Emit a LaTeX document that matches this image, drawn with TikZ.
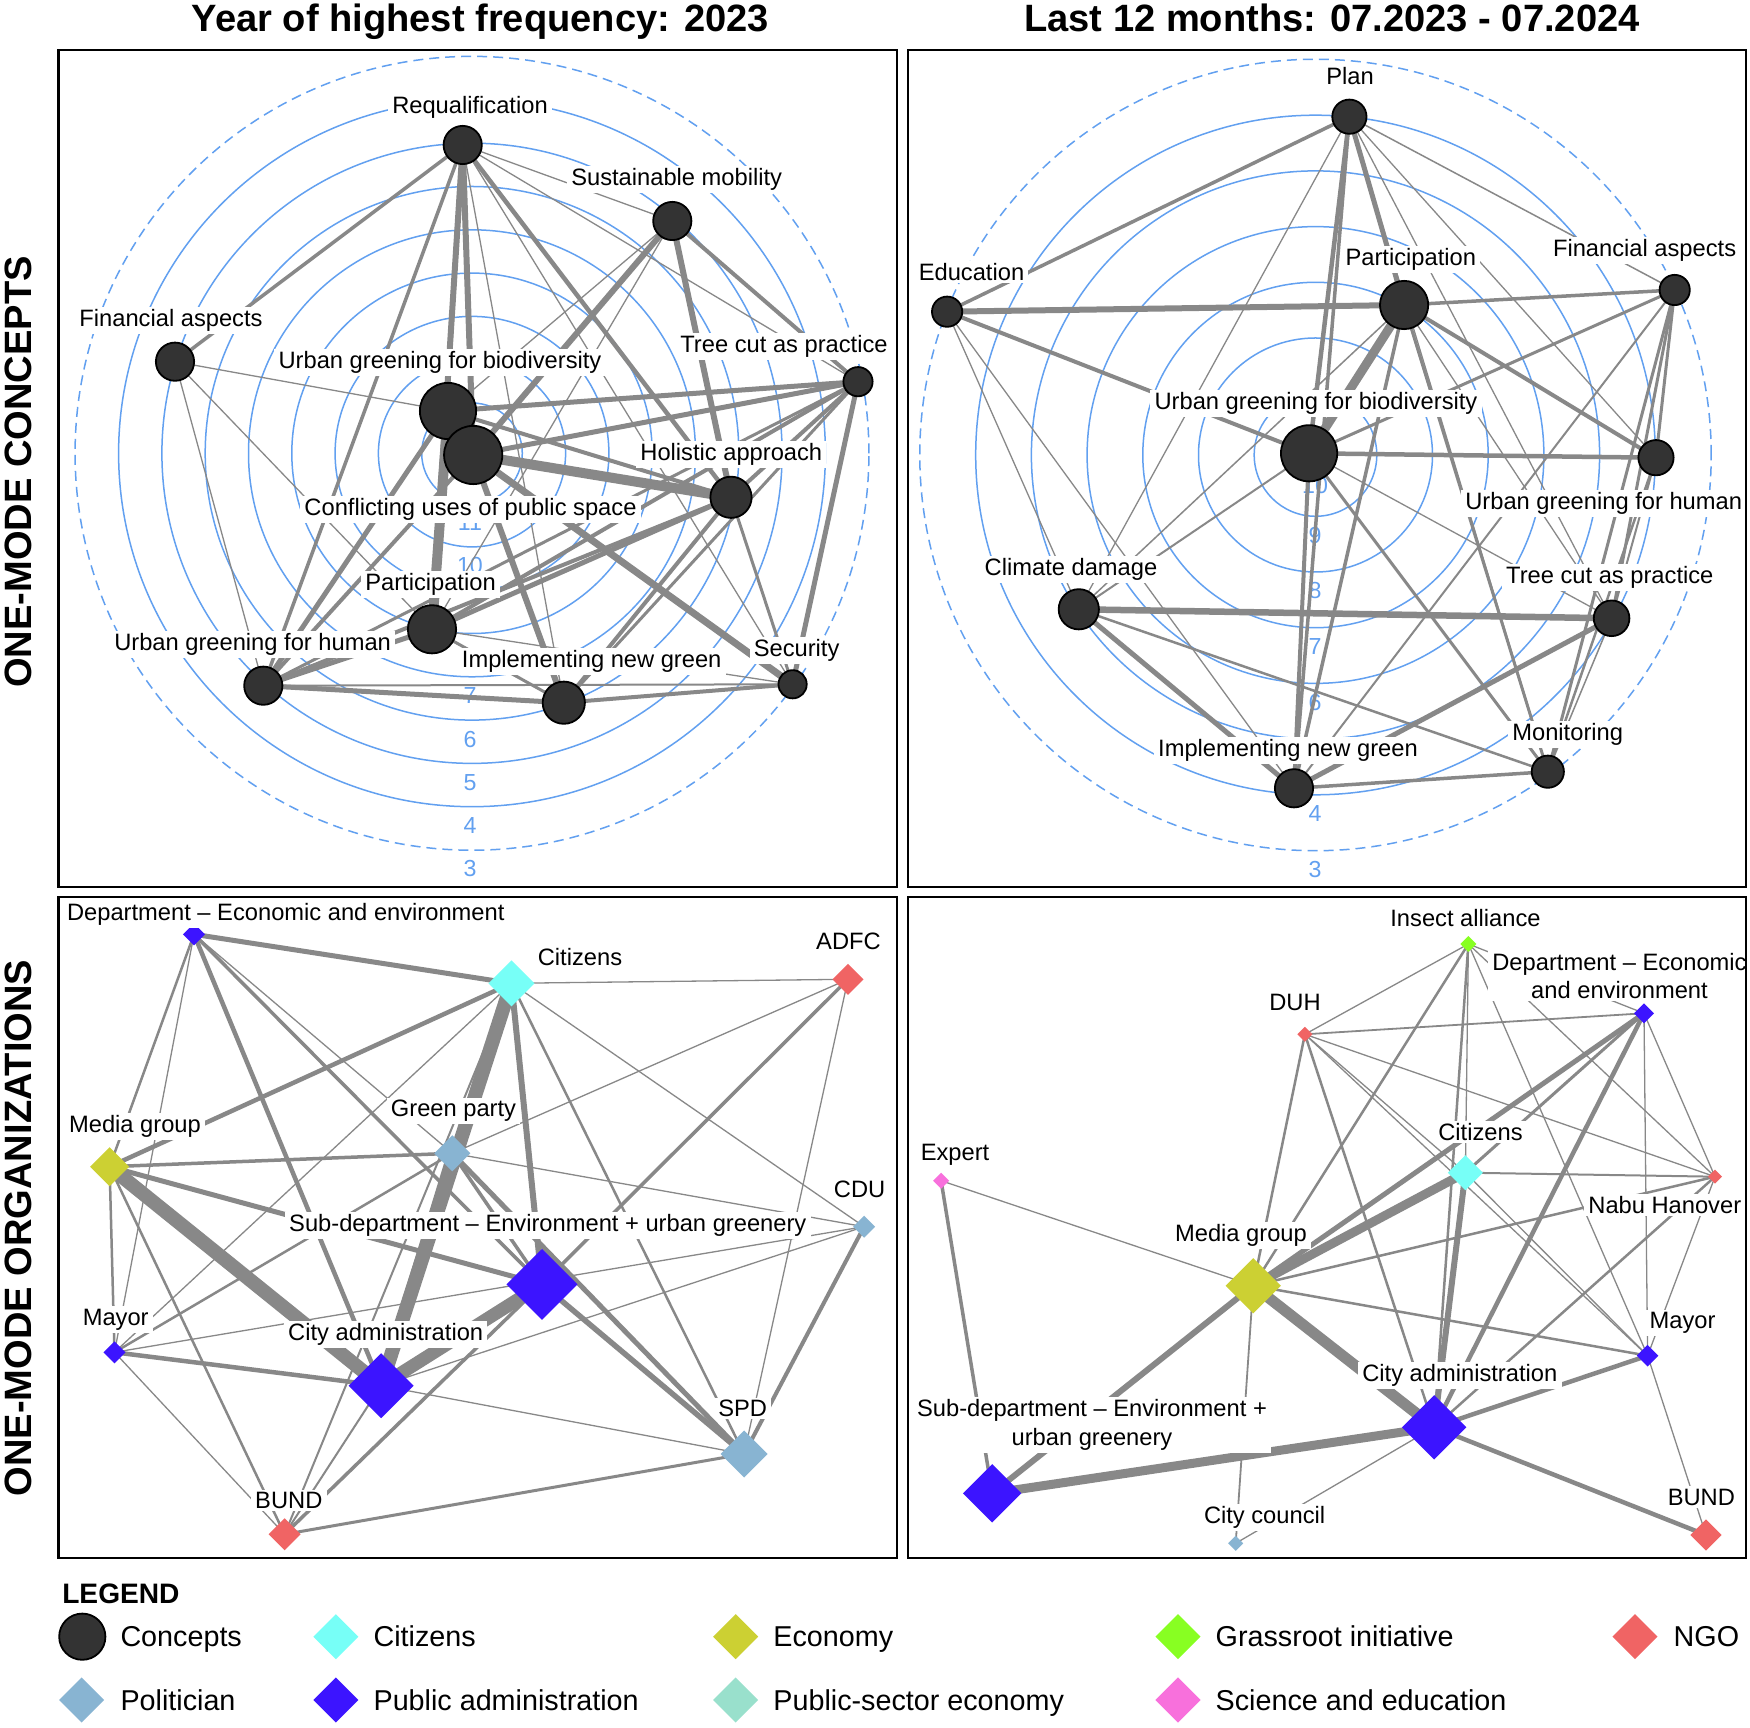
\documentclass[tikz,border=0pt]{standalone}
\usepackage{fontspec}
\setmainfont{Liberation Sans}
\usetikzlibrary{shapes.geometric}
\definecolor{ringblue}{RGB}{98,160,240}
\definecolor{edgegray}{RGB}{136,136,136}
\definecolor{nodegray}{RGB}{51,51,51}
\definecolor{cCit}{RGB}{119,255,247}
\definecolor{cEcon}{RGB}{204,208,51}
\definecolor{cGrass}{RGB}{136,255,34}
\definecolor{cNGO}{RGB}{240,100,100}
\definecolor{cPol}{RGB}{136,180,210}
\definecolor{cPub}{RGB}{60,20,255}
\definecolor{cPse}{RGB}{153,224,204}
\definecolor{cSci}{RGB}{248,112,220}
\pgfdeclarelayer{bgwhite}
\pgfdeclarelayer{rings}
\pgfdeclarelayer{edges}
\pgfdeclarelayer{labels}
\pgfsetlayers{bgwhite,rings,edges,main,labels}
\newcommand\cnx[3]{\draw[edge, ew=#1] (#2.center) -- (#3.center);}
\begin{document}
\begin{tikzpicture}[x=0.01cm,y=-0.01cm,
  ring/.style={draw=ringblue, line width=0.015cm},
  dashring/.style={ring, dash pattern=on 0.1cm off 0.06cm},
  digit/.style={text=ringblue, font=\fontsize{6.6}{7.5}\selectfont, inner sep=0pt},
  edge/.style={draw=edgegray, line cap=butt},
  ew/.style={line width=#1*0.01cm},
  cn/.style={circle, draw=black, fill=nodegray, line width=0.018cm, inner sep=0pt, minimum size=#1*0.02cm-0.018cm},
  dn/.style 2 args={diamond, aspect=1, fill=#1, draw=none, inner sep=0pt, outer sep=0pt, minimum size=#2*0.02cm},
  lab/.style={fill=white, inner xsep=1.2pt, inner ysep=0.7pt, font=\fontsize{6.74}{8.05}\selectfont, anchor=base, yshift=-0.085cm},
  lab2/.style={fill=white, inner xsep=1.2pt, inner ysep=0.7pt, font=\fontsize{6.74}{8.05}\selectfont, align=center, anchor=center},
  ttl/.style={font=\bfseries\fontsize{10.83}{13}\selectfont, anchor=base, inner sep=0pt},
  side/.style={font=\bfseries\fontsize{10.83}{13}\selectfont, anchor=base, rotate=90, inner sep=0pt},
  leg/.style={font=\fontsize{8.17}{9.8}\selectfont, anchor=base west, inner sep=0pt},
  panel/.style={draw=black, line width=0.02cm}
]
\useasboundingbox (0,0) rectangle (1750,1728);
\begin{pgfonlayer}{bgwhite}
\fill[white] (0,0) rectangle (1750,1728);
\end{pgfonlayer}

% ---------------- rings ----------------
\begin{pgfonlayer}{rings}
\draw[dashring] (472,453.3) circle[radius=3.967cm];
\node[digit] (tld3) at (470,869) {3};
\foreach \k in {4,...,11}{
  \pgfmathsetmacro\R{396.7-43.3*(\k-3)}
  \draw[ring] (472,453.3) circle[radius=\R*0.01cm];
}
\foreach \k in {4,5,6,7,10,11}{
  \pgfmathsetmacro\R{396.7-43.3*(\k-3)}
  \node[digit] (tld\k) at (470,453.3+\R+19) {\k};
}
\draw[dashring] (1315.5,455) circle[radius=3.955cm];
\node[digit] (trd3) at (1315,869.5) {3};
\foreach \k in {4,...,10}{
  \pgfmathsetmacro\R{395.5-55.7*(\k-3)}
  \draw[ring] (1315.5,455) circle[radius=\R*0.01cm];
}
\foreach \k in {4,6,7,8,9}{
  \pgfmathsetmacro\R{395.5-55.7*(\k-3)}
  \node[digit] (trd\k) at (1315,455+\R+19) {\k};
}
\node[digit] (trd10) at (1315,486) {10};
\end{pgfonlayer}

% ---------------- top-left nodes ----------------
\node[cn=20] (tl-req) at (462.7,145) {};
\node[cn=20] (tl-sm) at (672.3,221) {};
\node[cn=20] (tl-fa) at (175,361.7) {};
\node[cn=15.5] (tl-tc) at (858,381.7) {};
\node[cn=29] (tl-ugb) at (448,411) {};
\node[cn=30] (tl-cu) at (473.2,455) {};
\node[cn=21.5] (tl-ha) at (731,497.3) {};
\node[cn=25] (tl-pa) at (432,629.3) {};
\node[cn=20] (tl-ugh) at (263.3,685.7) {};
\node[cn=22] (tl-ing) at (563.8,702.7) {};
\node[cn=15] (tl-se) at (792.6,684.3) {};

% ---------------- top-right nodes ----------------
\node[cn=18] (tr-plan) at (1349.4,116.7) {};
\node[cn=16] (tr-edu) at (947.1,311.7) {};
\node[cn=25] (tr-par) at (1404.1,305) {};
\node[cn=16] (tr-fa) at (1674.7,290) {};
\node[cn=29] (tr-ugb) at (1309.1,453.3) {};
\node[cn=18.5] (tr-ugh) at (1656,457.7) {};
\node[cn=21] (tr-cd) at (1078.8,609.3) {};
\node[cn=18.7] (tr-tc) at (1611.6,618.3) {};
\node[cn=17] (tr-mon) at (1547.8,771.7) {};
\node[cn=20] (tr-ing) at (1294,788.3) {};

% ---------------- bottom-left nodes ----------------
\node[dn={cPub}{11}] (bl-de) at (194,934.3) {};
\node[dn={cCit}{23}] (bl-cit) at (511.5,983.3) {};
\node[dn={cNGO}{15.5}] (bl-adfc) at (848,979.3) {};
\node[dn={cEcon}{19.5}] (bl-mg) at (109.6,1166.7) {};
\node[dn={cPol}{18}] (bl-gp) at (452.3,1153.3) {};
\node[dn={cPol}{11}] (bl-cdu) at (864.1,1226.7) {};
\node[dn={cPub}{35.5}] (bl-sub) at (542,1284.3) {};
\node[dn={cPub}{11}] (bl-may) at (114.5,1352.3) {};
\node[dn={cPub}{32.5}] (bl-ca) at (381.1,1385.7) {};
\node[dn={cPol}{23.5}] (bl-spd) at (744.1,1454) {};
\node[dn={cNGO}{16}] (bl-bund) at (284.6,1534.3) {};

% ---------------- bottom-right nodes ----------------
\node[dn={cGrass}{8}] (br-ia) at (1468.4,944) {};
\node[dn={cPub}{10}] (br-de) at (1644,1013.3) {};
\node[dn={cNGO}{7.5}] (br-duh) at (1304.9,1034.3) {};
\node[dn={cCit}{17.5}] (br-cit) at (1465.4,1172.7) {};
\node[dn={cNGO}{7}] (br-nabu) at (1715,1176.7) {};
\node[dn={cSci}{8}] (br-exp) at (941.1,1180.7) {};
\node[dn={cEcon}{27.6}] (br-mg) at (1253.2,1285.7) {};
\node[dn={cPub}{10.8}] (br-may) at (1647.6,1355.7) {};
\node[dn={cPub}{32.2}] (br-ca) at (1434.2,1427.3) {};
\node[dn={cPub}{29.2}] (br-sub) at (992.2,1493.3) {};
\node[dn={cPol}{7.5}] (br-cc) at (1235.7,1543.3) {};
\node[dn={cNGO}{15.5}] (br-bund) at (1706,1535) {};

% ---------------- edges ----------------
\begin{pgfonlayer}{edges}
% top-left
\cnx{3.5}{tl-req}{tl-fa}
\cnx{3.5}{tl-req}{tl-ugh}
\cnx{6}{tl-req}{tl-pa}
\cnx{6}{tl-req}{tl-cu}
\cnx{2}{tl-req}{tl-ugb}
\cnx{1.3}{tl-req}{tl-sm}
\cnx{1.3}{tl-req}{tl-tc}
\cnx{4.5}{tl-req}{tl-ha}
\cnx{1.3}{tl-req}{tl-se}
\cnx{1.3}{tl-req}{tl-ing}
\cnx{6}{tl-sm}{tl-cu}
\cnx{1.3}{tl-sm}{tl-ugb}
\cnx{1.3}{tl-sm}{tl-pa}
\cnx{6}{tl-sm}{tl-ha}
\cnx{4}{tl-sm}{tl-tc}
\cnx{1.3}{tl-fa}{tl-ugb}
\cnx{1.3}{tl-fa}{tl-ugh}
\cnx{1.3}{tl-fa}{tl-pa}
\cnx{5}{tl-tc}{tl-ugb}
\cnx{5}{tl-tc}{tl-cu}
\cnx{4}{tl-tc}{tl-ha}
\cnx{4}{tl-tc}{tl-pa}
\cnx{5}{tl-tc}{tl-se}
\cnx{3}{tl-tc}{tl-ugh}
\cnx{3}{tl-tc}{tl-ing}
\cnx{10}{tl-cu}{tl-ha}
\cnx{7}{tl-cu}{tl-se}
\cnx{10}{tl-ugb}{tl-pa}
\cnx{6}{tl-cu}{tl-ing}
\cnx{4}{tl-cu}{tl-ugh}
\cnx{4}{tl-ugb}{tl-ha}
\cnx{5}{tl-ugb}{tl-ugh}
\cnx{5}{tl-ha}{tl-pa}
\cnx{4}{tl-ha}{tl-ugh}
\cnx{4}{tl-ha}{tl-ing}
\cnx{3}{tl-ha}{tl-se}
\cnx{5}{tl-pa}{tl-ugh}
\cnx{3}{tl-pa}{tl-ing}
\cnx{1.3}{tl-pa}{tl-se}
\cnx{5}{tl-ugh}{tl-ing}
\cnx{2}{tl-ugh}{tl-se}
\cnx{4}{tl-ing}{tl-se}
% top-right
\cnx{3.5}{tr-plan}{tr-edu}
\cnx{5}{tr-plan}{tr-par}
\cnx{4.5}{tr-plan}{tr-ugb}
\cnx{3.5}{tr-plan}{tr-ing}
\cnx{1.3}{tr-plan}{tr-cd}
\cnx{1.5}{tr-plan}{tr-fa}
\cnx{1.3}{tr-plan}{tr-ugh}
\cnx{1.3}{tr-plan}{tr-tc}
\cnx{1.3}{tr-plan}{tr-mon}
\cnx{6}{tr-edu}{tr-par}
\cnx{4}{tr-edu}{tr-ugb}
\cnx{1.3}{tr-edu}{tr-cd}
\cnx{1.3}{tr-edu}{tr-ing}
\cnx{3.5}{tr-par}{tr-fa}
\cnx{9}{tr-par}{tr-ugb}
\cnx{4}{tr-par}{tr-ugh}
\cnx{3}{tr-par}{tr-mon}
\cnx{1.5}{tr-par}{tr-cd}
\cnx{1.3}{tr-par}{tr-tc}
\cnx{3.5}{tr-par}{tr-ing}
\cnx{3}{tr-fa}{tr-ugb}
\cnx{3}{tr-fa}{tr-ugh}
\cnx{3}{tr-fa}{tr-tc}
\cnx{3}{tr-fa}{tr-mon}
\cnx{2}{tr-fa}{tr-ing}
\cnx{4.5}{tr-ugb}{tr-ugh}
\cnx{3}{tr-ugb}{tr-mon}
\cnx{1.3}{tr-ugb}{tr-tc}
\cnx{4}{tr-ugb}{tr-ing}
\cnx{2}{tr-ugb}{tr-cd}
\cnx{2}{tr-ugh}{tr-tc}
\cnx{2.5}{tr-ugh}{tr-mon}
\cnx{6.5}{tr-cd}{tr-tc}
\cnx{5}{tr-cd}{tr-ing}
\cnx{2.5}{tr-cd}{tr-mon}
\cnx{5}{tr-tc}{tr-ing}
\cnx{1.5}{tr-tc}{tr-mon}
\cnx{3.5}{tr-mon}{tr-ing}
% bottom-left
\cnx{5}{bl-de}{bl-cit}
\cnx{2.5}{bl-de}{bl-mg}
\cnx{1.3}{bl-de}{bl-may}
\cnx{4.5}{bl-de}{bl-ca}
\cnx{3.5}{bl-de}{bl-sub}
\cnx{1.3}{bl-de}{bl-gp}
\cnx{1.3}{bl-cit}{bl-adfc}
\cnx{4.5}{bl-cit}{bl-mg}
\cnx{14}{bl-cit}{bl-ca}
\cnx{6}{bl-cit}{bl-sub}
\cnx{1.3}{bl-cit}{bl-may}
\cnx{2.5}{bl-cit}{bl-spd}
\cnx{1.3}{bl-cit}{bl-cdu}
\cnx{2}{bl-cit}{bl-bund}
\cnx{1.3}{bl-adfc}{bl-gp}
\cnx{3.5}{bl-adfc}{bl-sub}
\cnx{1.3}{bl-adfc}{bl-spd}
\cnx{3.5}{bl-mg}{bl-gp}
\cnx{5}{bl-mg}{bl-sub}
\cnx{14}{bl-mg}{bl-ca}
\cnx{2.5}{bl-mg}{bl-may}
\cnx{2.5}{bl-mg}{bl-bund}
\cnx{3.5}{bl-gp}{bl-sub}
\cnx{5}{bl-gp}{bl-spd}
\cnx{10}{bl-gp}{bl-ca}
\cnx{1.3}{bl-gp}{bl-cdu}
\cnx{2.5}{bl-gp}{bl-may}
\cnx{13}{bl-sub}{bl-ca}
\cnx{5.5}{bl-sub}{bl-spd}
\cnx{3.5}{bl-sub}{bl-bund}
\cnx{4.5}{bl-may}{bl-ca}
\cnx{1.3}{bl-may}{bl-cdu}
\cnx{1.3}{bl-may}{bl-bund}
\cnx{1.3}{bl-ca}{bl-cdu}
\cnx{1.3}{bl-ca}{bl-spd}
\cnx{2}{bl-ca}{bl-bund}
\cnx{3}{bl-spd}{bl-bund}
\cnx{4}{bl-cdu}{bl-spd}
% bottom-right
\cnx{1.3}{br-ia}{br-duh}
\cnx{2.5}{br-ia}{br-mg}
\cnx{1.3}{br-ia}{br-cit}
\cnx{2.5}{br-ia}{br-ca}
\cnx{1.3}{br-ia}{br-may}
\cnx{1.3}{br-ia}{br-nabu}
\cnx{1.3}{br-ia}{br-de}
\cnx{1.8}{br-duh}{br-de}
\cnx{2.5}{br-duh}{br-mg}
\cnx{2.5}{br-duh}{br-ca}
\cnx{1.3}{br-duh}{br-cit}
\cnx{1.3}{br-duh}{br-may}
\cnx{1.3}{br-duh}{br-nabu}
\cnx{5}{br-de}{br-mg}
\cnx{3}{br-de}{br-cit}
\cnx{4.5}{br-de}{br-ca}
\cnx{1.3}{br-de}{br-may}
\cnx{1.3}{br-de}{br-nabu}
\cnx{2}{br-cit}{br-nabu}
\cnx{9}{br-cit}{br-mg}
\cnx{6}{br-cit}{br-ca}
\cnx{1.3}{br-cit}{br-may}
\cnx{2.5}{br-nabu}{br-mg}
\cnx{2.5}{br-nabu}{br-ca}
\cnx{1.3}{br-nabu}{br-may}
\cnx{1.3}{br-exp}{br-mg}
\cnx{3.5}{br-exp}{br-sub}
\cnx{6}{br-mg}{br-sub}
\cnx{11}{br-mg}{br-ca}
\cnx{2.5}{br-mg}{br-may}
\cnx{1.8}{br-mg}{br-cc}
\cnx{9}{br-ca}{br-sub}
\cnx{4.5}{br-ca}{br-may}
\cnx{4.5}{br-ca}{br-bund}
\cnx{1.3}{br-ca}{br-cc}
\cnx{1.3}{br-may}{br-bund}
\end{pgfonlayer}

% ---------------- labels ----------------
\begin{pgfonlayer}{labels}
\node[lab] (tl-l-req) at (470,105) {Requalification};
\node[lab] (tl-l-sm) at (676.7,177.3) {Sustainable mobility};
\node[lab] (tl-l-fa) at (171,318.3) {Financial aspects};
\node[lab] (tl-l-ugb) at (440,360) {Urban greening for biodiversity};
\node[lab] (tl-l-tc) at (784,344) {Tree cut as practice};
\node[lab] (tl-l-ha) at (731.3,451.7) {Holistic approach};
\node[lab] (tl-l-cu) at (470.5,507.3) {Conflicting uses of public space};
\node[lab] (tl-l-pa) at (430.5,582.3) {Participation};
\node[lab] (tl-l-ugh) at (252.6,641.7) {Urban greening for human};
\node[lab] (tl-l-ing) at (591.7,659.3) {Implementing new green};
\node[lab] (tl-l-se) at (796.6,648.3) {Security};

\node[lab] (tr-l-plan) at (1350,76) {Plan};
\node[lab] (tr-l-edu) at (971.5,271.7) {Education};
\node[lab] (tr-l-par) at (1410.8,256.7) {Participation};
\node[lab] (tr-l-fa) at (1644.6,248.3) {Financial aspects};
\node[lab] (tr-l-ugb) at (1316,401) {Urban greening for biodiversity};
\node[lab] (tr-l-ugh) at (1603.7,501) {Urban greening for human};
\node[lab] (tr-l-cd) at (1071,566.7) {Climate damage};
\node[lab] (tr-l-tc) at (1609.8,575) {Tree cut as practice};
\node[lab] (tr-l-ing) at (1288,748.3) {Implementing new green};
\node[lab] (tr-l-mon) at (1567.7,731.7) {Monitoring};

\node[lab] (bl-l-de) at (285.8,911.7) {Department -- Economic and environment};
\node[lab] (bl-l-cit) at (580,957.3) {Citizens};
\node[lab] (bl-l-adfc) at (848.5,941) {ADFC};
\node[lab] (bl-l-mg) at (135,1124) {Media group};
\node[lab] (bl-l-gp) at (453.5,1108.3) {Green party};
\node[lab] (bl-l-cdu) at (859.6,1189.3) {CDU};
\node[lab] (bl-l-sub) at (547.8,1223.3) {Sub-department -- Environment + urban greenery};
\node[lab] (bl-l-may) at (115.7,1316.7) {Mayor};
\node[lab] (bl-l-ca) at (385.7,1332.3) {City administration};
\node[lab] (bl-l-spd) at (742.7,1408.3) {SPD};
\node[lab] (bl-l-bund) at (288.8,1500) {BUND};

\node[lab] (br-l-ia) at (1465.5,918.3) {Insect alliance};
\node[lab2] (br-l-de) at (1619.5,976) {Department -- Economic\\and environment};
\node[lab] (br-l-duh) at (1295,1002.3) {DUH};
\node[lab] (br-l-cit) at (1480.5,1132.3) {Citizens};
\node[lab] (br-l-nabu) at (1664.8,1205) {Nabu Hanover};
\node[lab] (br-l-exp) at (955,1152.3) {Expert};
\node[lab] (br-l-mg) at (1241,1233.3) {Media group};
\node[lab] (br-l-may) at (1682.5,1320) {Mayor};
\node[lab] (br-l-ca) at (1459.8,1373.3) {City administration};
\node[lab2] (br-l-sub) at (1092,1425) {Sub-department -- Environment +\\urban greenery};
\node[lab] (br-l-cc) at (1264.6,1515) {City council};
\node[lab] (br-l-bund) at (1701.4,1496.7) {BUND};

% panels
\draw[panel] (58.5,50) rectangle (897,887.5);
\draw[panel] (908,50) rectangle (1746,887.5);
\draw[panel] (58.5,897.5) rectangle (897,1558);
\draw[panel] (908,897.5) rectangle (1746,1558);
\end{pgfonlayer}

% titles
\node[ttl] (t1) at (480.4,31.9) {Year of highest frequency: 2023};
\node[ttl] (t2) at (1332,31.9) {Last 12 months: 07.2023 - 07.2024};
\node[side] (s1) at (31.9,472) {ONE-MODE CONCEPTS};
\node[side] (s2) at (31.9,1228) {ONE-MODE ORGANIZATIONS};

% legend
\node[font=\bfseries\fontsize{8}{9.6}\selectfont, anchor=base west, inner sep=0pt] (lg) at (61.6,1604) {LEGEND};
\node[cn=24] (lg-c) at (82.3,1636.7) {};
\node[leg] (lg-ct) at (119.8,1647) {Concepts};
\node[dn={cCit}{22.5}] (lg-cit) at (335.9,1636.7) {};
\node[leg] (lg-citt) at (372.9,1647) {Citizens};
\node[dn={cEcon}{22.5}] (lg-eco) at (735.7,1636.7) {};
\node[leg] (lg-ecot) at (772.7,1647) {Economy};
\node[dn={cGrass}{22.5}] (lg-gr) at (1178,1636.7) {};
\node[leg] (lg-grt) at (1215,1647) {Grassroot initiative};
\node[dn={cNGO}{22.5}] (lg-ngo) at (1635,1636.7) {};
\node[leg] (lg-ngot) at (1673,1647) {NGO};
\node[dn={cPol}{22.5}] (lg-pol) at (81.7,1700) {};
\node[leg] (lg-polt) at (119.8,1710.3) {Politician};
\node[dn={cPub}{22.5}] (lg-pub) at (335.9,1700) {};
\node[leg] (lg-pubt) at (372.9,1710.3) {Public administration};
\node[dn={cPse}{22.5}] (lg-pse) at (735.7,1700) {};
\node[leg] (lg-pset) at (772.7,1710.3) {Public-sector economy};
\node[dn={cSci}{22.5}] (lg-sci) at (1178,1700) {};
\node[leg] (lg-scit) at (1215,1710.3) {Science and education};
\end{tikzpicture}
\end{document}
